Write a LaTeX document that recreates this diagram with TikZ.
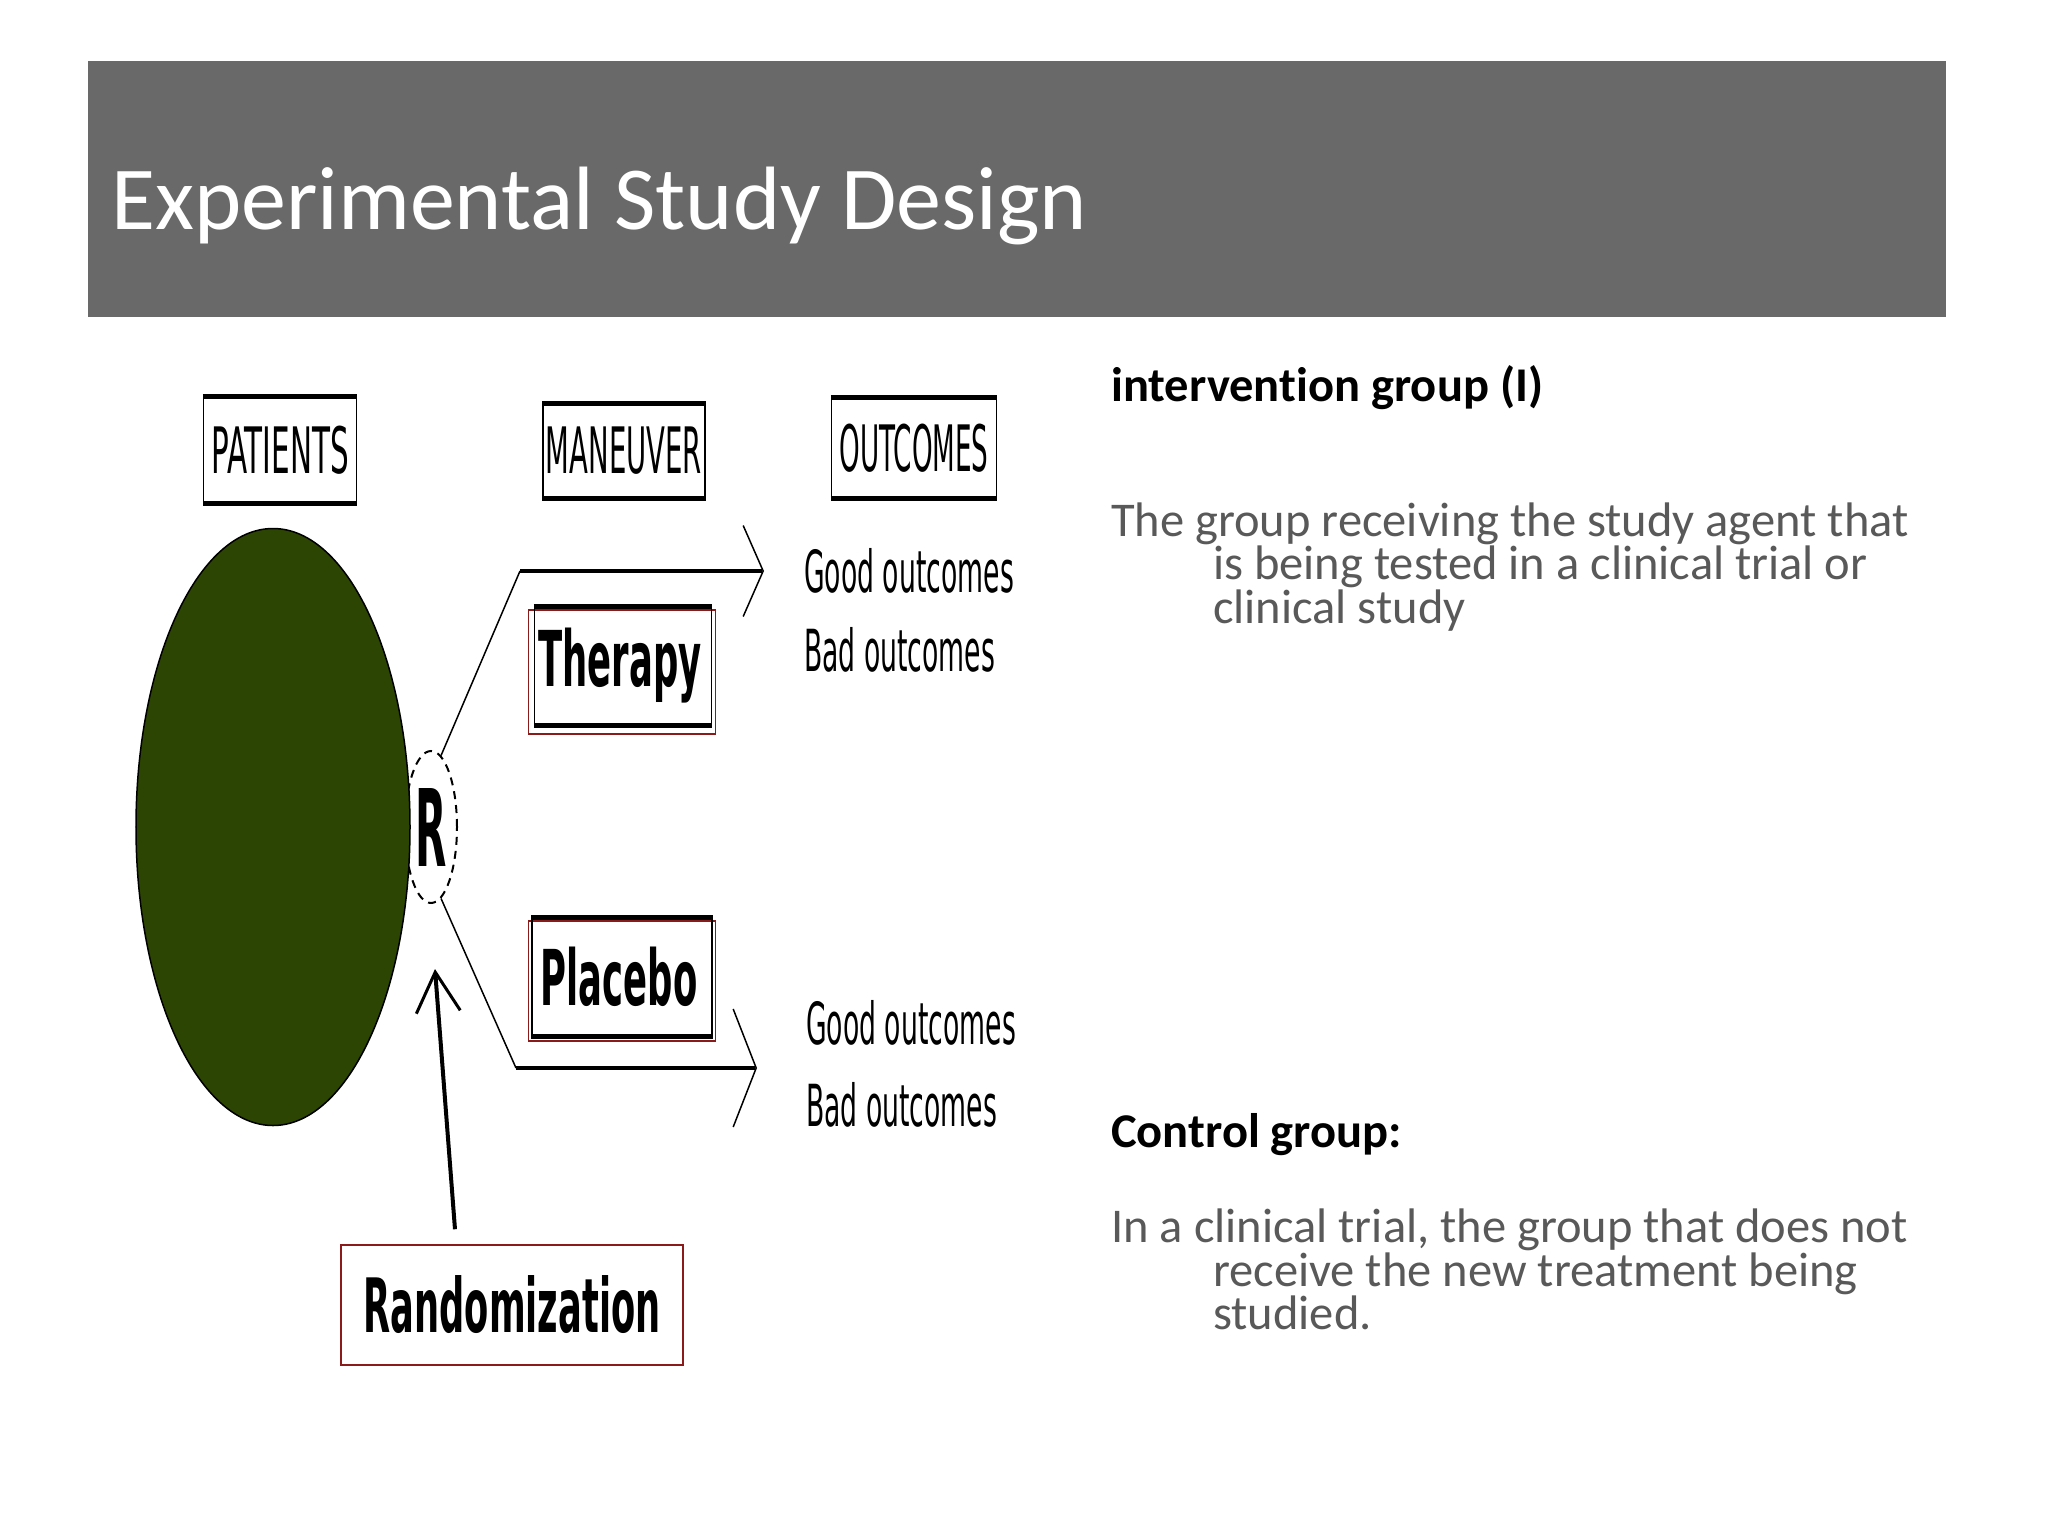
\documentclass[tikz,border=0pt]{standalone}
\usepackage{fontspec}
\setmainfont{Carlito}[Ligatures=NoCommon]
\newfontfamily\pixfont{DejaVu Sans}
\usepackage{graphicx}
\usetikzlibrary{arrows.meta,calc,positioning,shapes.geometric}
\definecolor{Bar}{HTML}{696969}
\definecolor{Body}{HTML}{595959}
\definecolor{Olive}{HTML}{2D4502}
\definecolor{Frame}{HTML}{8B1A1A}
\newcommand{\thinlabel}[3]{{\pixfont\fontsize{#1}{#1}\selectfont\scalebox{#2}[1]{#3}}}
\newcommand{\boldlabel}[3]{{\pixfont\bfseries\fontsize{#1}{#1}\selectfont\scalebox{#2}[1]{#3}}}
\tikzset{hdr/.style={draw,line width=1.5bp,inner sep=0pt},frame/.style={draw=Frame,line width=1.5bp,inner sep=0pt},rule/.style={line width=5bp},branch/.style={line width=1.5bp},bar/.style={line width=4bp},txt/.style={anchor=base west,inner sep=0pt,align=left,font=\fontsize{48.5bp}{40.5bp}\selectfont}}

\begin{document}
\begin{tikzpicture}[x=1bp,y=-1bp]
      \useasboundingbox[fill=white](0,0) rectangle (2048,1536);
      \fill[Bar](88,61) rectangle (1946,317);
      \node[anchor=base west,inner sep=0pt,text=white,font=\fontsize{90bp}{90bp}\selectfont](title) at (111,229){Experimental Study Design};
      % column heads
      \node[hdr,minimum width=153bp,minimum height=105bp](pat) at (280,450){\thinlabel{64bp}{0.46}{PATIENTS}};
      \node[hdr,minimum width=162bp,minimum height=94bp](man) at (624,451){\thinlabel{64bp}{0.43}{MANEUVER}};
      \node[hdr,minimum width=165bp,minimum height=100bp](out) at (914,448){\thinlabel{64bp}{0.41}{OUTCOMES}};
      % randomisation and patients
      \node[ellipse,draw,line width=2bp,dash pattern=on 8bp off 6bp,minimum width=52bp,minimum height=152bp,inner sep=0pt](rnd) at (431,827){\boldlabel{107bp}{0.38}{R}};
      \node[ellipse,draw,line width=1.5bp,fill=Olive,minimum width=274bp,minimum height=597bp](pts) at (273,827){};
      % arms
      \node[frame,minimum width=187bp,minimum height=124bp](therapyframe) at (622,672){};
      \node[hdr,minimum width=177bp,minimum height=118bp](therapy) at (623,666){\boldlabel{77bp}{0.46}{Therapy}\hspace*{6bp}};
      \node[frame,minimum width=187bp,minimum height=120bp](placeboframe) at (622,981){};
      \node[hdr,minimum width=180bp,minimum height=118bp](placebo) at (622,977){\boldlabel{77bp}{0.46}{Placebo}\hspace*{6bp}};
      \foreach \n in {pat,man,out,therapy,placebo}{\draw[rule](\n.north west)--(\n.north east);\draw[rule](\n.south west)--(\n.south east);}
      \node[anchor=west,inner sep=0pt](good1) at (804,571){\thinlabel{58bp}{0.46}{Good outcomes}};
      \node[anchor=west,inner sep=0pt](bad1) at (804,650){\thinlabel{58bp}{0.46}{Bad outcomes}};
      \node[anchor=west,inner sep=0pt](good2) at (806,1023){\thinlabel{58bp}{0.46}{Good outcomes}};
      \node[anchor=west,inner sep=0pt](bad2) at (806,1105){\thinlabel{58bp}{0.46}{Bad outcomes}};
      \coordinate(up) at (520,571);\coordinate(uptip) at (764,571);
      \coordinate(dn) at (516,1068);\coordinate(dntip) at (757,1068);
      \draw[branch](rnd.82)--(up);
      \draw[bar,-{Straight Barb[length=20bp,width=91bp,line width=1.5bp]}](up)--(uptip);
      \draw[branch](rnd.-82)--(dn);
      \draw[bar,-{Straight Barb[length=23bp,width=118bp,line width=1.5bp]}](dn)--(dntip);
      \node[frame,minimum width=342bp,minimum height=120bp](rand) at (512,1305){\boldlabel{75bp}{0.47}{Randomization}};
      \coordinate(rtip) at (435,969);
      \draw[bar,-{Straight Barb[length=40bp,width=44bp,line width=3bp]}]([xshift=-57bp,yshift=15bp]rand.north)--(rtip);
      % definitions (base = last line)
      \node[txt,font=\fontsize{48.5bp}{40.5bp}\selectfont\bfseries](ihead) at (1111,401){intervention group (I)};
      \node[txt,text=Body](itext) at (1111,623){The group receiving the study agent that\\\hspace*{102bp}is being tested in a clinical trial or\\\hspace*{102bp}clinical study};
      \node[txt,font=\fontsize{48.5bp}{40.5bp}\selectfont\bfseries](chead) at (1111,1147){Control group:};
      \node[txt,text=Body](ctext) at (1111,1329){In a clinical trial, the group that does not\\\hspace*{102bp}receive the new treatment being\\\hspace*{102bp}studied.};
    \end{tikzpicture}
\end{document}
